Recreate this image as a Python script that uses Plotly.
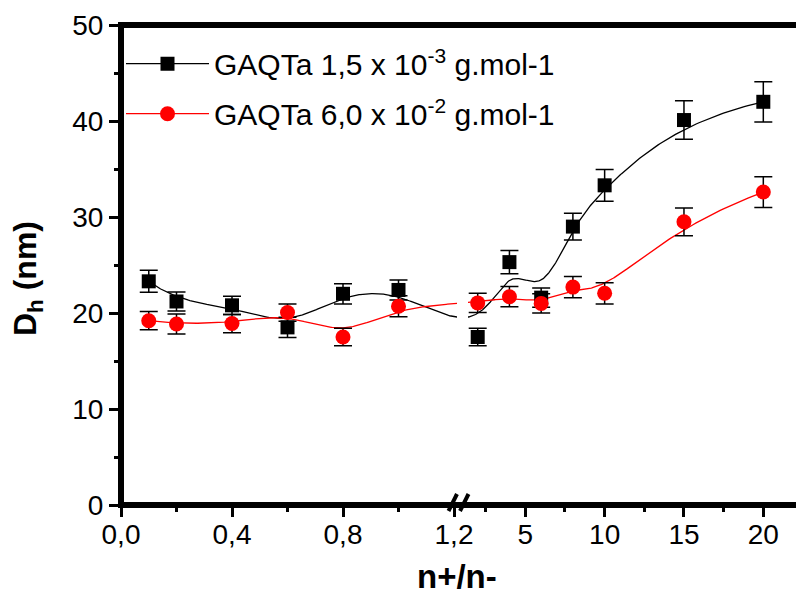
import numpy as np
import plotly.graph_objects as go

# ---------------- data ----------------
ratio = [0.1, 0.2, 0.4, 0.6, 0.8, 1.0, 2, 4, 6, 8, 10, 15, 20]
dh_low = [23.3, 21.2, 20.8, 18.5, 22.0, 22.4, 17.5, 25.3, 21.6, 29.0, 33.3, 40.1, 42.0]
err_low = [1.15, 1.0, 0.95, 1.05, 1.05, 1.05, 0.9, 1.2, 1.0, 1.4, 1.65, 2.0, 2.1]
dh_high = [19.2, 18.85, 18.9, 20.05, 17.5, 20.7, 21.05, 21.7, 21.0, 22.7, 22.05, 29.5, 32.6]
err_high = [0.95, 1.05, 0.95, 0.9, 0.9, 1.1, 1.0, 1.05, 1.0, 1.1, 1.1, 1.45, 1.6]
names = ["GAQTa 1,5 x 10<sup>-3</sup> g.mol-1", "GAQTa 6,0 x 10<sup>-2</sup> g.mol-1"]
colors = ["#000000", "#ff0000"]
symbols = ["square", "circle"]

# ---------------- broken-axis layout ----------------
W, H = 796, 597
ML, MR, MT = 121, 0, 25
PH = 480
MB = H - MT - PH
PW = W - ML - MR
X0, Y0 = 121, 505             # pixel position of data origin
dL = (457 - X0) / PW          # end of left segment (paper)
dR = (468 - X0) / PW          # start of right segment (paper)
rangeL = [0, 1.2108]
rangeR = [1.389, 22.06]
split = 1.2


def to_u(x):
    x = np.asarray(x, float)
    left = x <= split
    return np.where(left, (x - rangeL[0]) / (rangeL[1] - rangeL[0]) * dL,
                    dR + (x - rangeR[0]) / (rangeR[1] - rangeR[0]) * (1 - dR))


def from_u_left(u):
    return rangeL[0] + u / dL * (rangeL[1] - rangeL[0])


def from_u_right(u):
    return rangeR[0] + (u - dR) / (1 - dR) * (rangeR[1] - rangeR[0])


def bspline(px, py, n=600, p=3):
    P = np.column_stack([px, py])
    m = len(P)
    knots = np.concatenate([np.zeros(p), np.linspace(0, 1, m - p + 1), np.ones(p)])
    out = []
    for t in np.linspace(0, 1, n):
        if t >= 1:
            k = m - 1
        else:
            k = int(np.searchsorted(knots, t, side="right") - 1)
        d = [P[j + k - p].copy() for j in range(p + 1)]
        for r in range(1, p + 1):
            for j in range(p, r - 1, -1):
                den = knots[j + 1 + k - r] - knots[j + k - p]
                a = 0 if den == 0 else (t - knots[j + k - p]) / den
                d[j] = (1 - a) * d[j - 1] + a * d[j]
        out.append(d[p])
    out = np.array(out)
    return out[:, 0], out[:, 1]


fig = go.Figure()
xr = np.asarray(ratio, float)
isL = xr <= split
series = [(dh_low, err_low), (dh_high, err_high)]

# smoothed connecting curves (B-spline in display space)
for (vals, _), c in zip(series, colors):
    cu, cy = bspline(to_u(xr), np.asarray(vals, float))
    mL = cu <= dL + 0.01
    mR = cu >= dR - 0.01
    fig.add_trace(go.Scatter(x=from_u_left(cu[mL]), y=cy[mL], xaxis="x", yaxis="y",
                             mode="lines", line=dict(color=c, width=1.3),
                             showlegend=False, hoverinfo="skip"))
    fig.add_trace(go.Scatter(x=from_u_right(cu[mR]), y=cy[mR], xaxis="x2", yaxis="y",
                             mode="lines", line=dict(color=c, width=1.3),
                             showlegend=False, hoverinfo="skip"))

# markers with error bars
for (vals, errs), c, s, sz in zip(series, colors, symbols, [14, 15]):
    v = np.asarray(vals, float)
    e = np.asarray(errs, float)
    for mask, ax in [(isL, "x"), (~isL, "x2")]:
        fig.add_trace(go.Scatter(x=xr[mask], y=v[mask], xaxis=ax, yaxis="y",
                                 mode="markers",
                                 marker=dict(symbol=s, size=sz, color=c, line=dict(width=0)),
                                 error_y=dict(type="data", array=e[mask], visible=True,
                                              color="#000000", thickness=1.5, width=9),
                                 showlegend=False))

# legend entries
for i, (nm, c, s, sz) in enumerate(zip(names, colors, symbols, [14, 15])):
    fig.add_trace(go.Scatter(x=[None], y=[None], xaxis="x", yaxis="y",
                             mode="lines+markers", name=nm, legendgroup=f"g{i}",
                             line=dict(color=c, width=1.3),
                             marker=dict(symbol=s, size=sz, color=c)))

FONT = "Liberation Sans, Arial, sans-serif"
tickfont = dict(family=FONT, size=28, color="black")
common = dict(showgrid=False, zeroline=False, showline=False, ticks="outside", automargin=False,
              ticklen=11, tickwidth=3, tickcolor="black", tickfont=tickfont)

LW = 6
shapes = [
    dict(type="line", xref="paper", yref="paper", x0=-LW / 2 / PW, x1=1, y0=0, y1=0,
         line=dict(color="black", width=LW), layer="above"),
    dict(type="line", xref="paper", yref="paper", x0=-LW / 2 / PW, x1=1, y0=1, y1=1,
         line=dict(color="black", width=LW), layer="above"),
    dict(type="line", xref="paper", yref="paper", x0=0, x1=0, y0=-LW / 2 / PH, y1=1 + LW / 2 / PH,
         line=dict(color="black", width=LW), layer="above"),
]
# break marks "//"
for x0p in [448.5, 460.0]:
    shapes.append(dict(type="line", xref="paper", yref="paper",
                       x0=(x0p - X0) / PW, y0=(Y0 - 511) / PH,
                       x1=(x0p + 8.5 - X0) / PW, y1=(Y0 - 494) / PH,
                       line=dict(color="black", width=4), layer="above"))

fig.update_layout(
    width=W, height=H,
    margin=dict(l=ML, r=MR, t=MT, b=MB, autoexpand=False),
    paper_bgcolor="white", plot_bgcolor="white",
    separators=", ",
    font=dict(family=FONT, size=28, color="black"),
    xaxis=dict(domain=[0, dL], range=rangeL, anchor="y", tick0=0, dtick=0.4, tickformat=".1f",
               ticklabelstandoff=-7,
               minor=dict(dtick=0.2, ticks="outside", ticklen=6, tickwidth=3, tickcolor="black"),
               **common),
    xaxis2=dict(domain=[dR, 1], range=rangeR, anchor="y", tick0=0, dtick=5,
                ticklabelstandoff=-7,
                minor=dict(dtick=2.5, ticks="outside", ticklen=6, tickwidth=3, tickcolor="black"),
                **common),
    yaxis=dict(range=[0, 50], anchor="x", tick0=0, dtick=10,
               minor=dict(dtick=5, ticks="outside", ticklen=6, tickwidth=3, tickcolor="black"),
               **common),
    shapes=shapes,
    legend=dict(x=0.0, y=0.9735, xanchor="left", yanchor="top", bgcolor="rgba(0,0,0,0)",
                font=dict(family=FONT, size=30, color="black"), itemwidth=83,
                tracegroupgap=8, traceorder="grouped"),
    annotations=[
        dict(text="<b>D<sub>h</sub> (nm)</b>", xref="paper", yref="paper",
             x=(27 - X0) / PW, y=(Y0 - 279) / PH, xanchor="center", yanchor="middle",
             textangle=-90, showarrow=False, font=dict(family=FONT, size=32, color="black")),
        dict(text="<b>n+/n-</b>", xref="paper", yref="paper",
             x=(457 - X0) / PW, y=(Y0 - 576) / PH, xanchor="center", yanchor="middle",
             showarrow=False, font=dict(family=FONT, size=33, color="black")),
    ],
)

fig.write_html("out.html", config={"displayModeBar": False},
               post_script="document.body.style.margin='0px';document.body.style.overflow='hidden';")
